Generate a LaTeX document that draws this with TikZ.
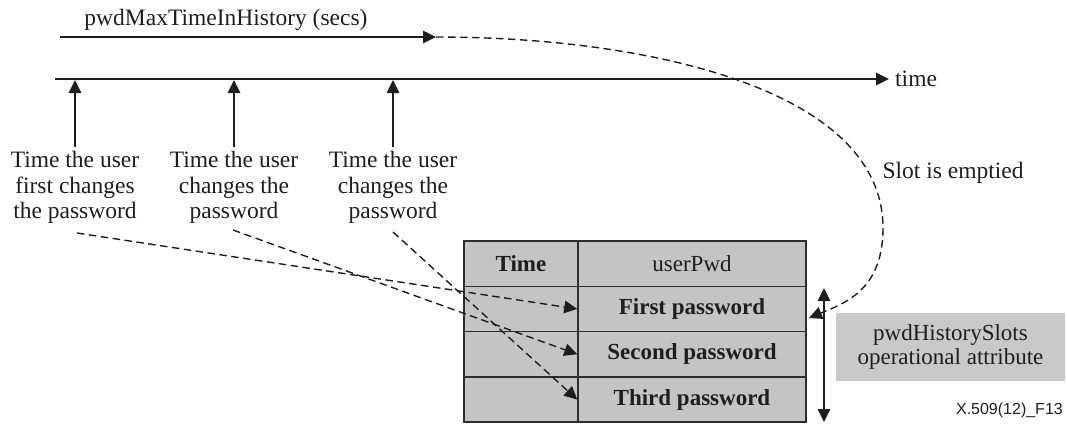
\documentclass[tikz,border=0pt]{standalone}
\usepackage{fontspec}
\setmainfont{Liberation Serif}
\newfontfamily\sansf{Liberation Sans}
\usetikzlibrary{arrows.meta}
\definecolor{cellgray}{RGB}{196,196,196}
\definecolor{boxgray}{RGB}{201,201,201}
\definecolor{linegray}{RGB}{45,45,45}
\definecolor{inkgray}{RGB}{30,30,30}
\begin{document}
\begin{tikzpicture}[x=1pt,y=-1pt,
 tip/.style={-{Triangle[length=13pt,width=12.5pt]}},
 dtip/.style={{Triangle[length=13pt,width=12.5pt]}-{Triangle[length=13pt,width=12.5pt]}},
 solidline/.style={line width=1.5pt, draw=inkgray},
 dashline/.style={line width=1.4pt, dash pattern=on 7.5pt off 4.5pt, draw=inkgray},
 lbl/.style={font=\fontsize{23.5}{25.5}\selectfont, align=center, inner sep=0pt, text=inkgray},
 cell/.style={draw=linegray, line width=1.5pt, fill=cellgray, minimum height=45.3pt, inner sep=0pt, text=inkgray, font=\fontsize{23}{25}\selectfont},
 bcell/.style={cell, font=\fontsize{23}{25}\selectfont\bfseries},
 cwa/.style={minimum width=114pt},
 cwb/.style={minimum width=228pt},
]
\useasboundingbox (0,0) rectangle (1067,423);

% table
\node[bcell,cwa] (t0) at (521,263.65) {Time};
\node[cell,cwb]  (p0) at (692,263.65) {userPwd};
\node[cell,cwa]  (t1) at (521,308.95) {};
\node[bcell,cwb] (p1) at (692,308.95) {First password};
\node[cell,cwa]  (t2) at (521,354.25) {};
\node[bcell,cwb] (p2) at (692,354.25) {Second password};
\node[cell,cwa]  (t3) at (521,399.55) {};
\node[bcell,cwb] (p3) at (692,399.55) {Third password};

% top arrow
\node[lbl] (pmt) at (226,20) {pwdMaxTimeInHistory (secs)};
\coordinate (ms) at (60,37);
\coordinate (me) at (436,37);
\draw[solidline,tip] (ms) -- (me);

% time axis
\node[lbl, anchor=west] (time) at (895,79) {time};
\coordinate (ts) at (55,79);
\draw[solidline,line width=1.8pt,tip] (ts) -- ([xshift=-6pt]time.west);

% labels
\node[lbl] (l1) at (75,187.5) {Time the user\\first changes\\the password};
\node[lbl] (l2) at (234,187.5) {Time the user\\changes the\\password};
\node[lbl] (l3) at (393,187.5) {Time the user\\changes the\\password};
\coordinate (ax1) at (75,80);
\coordinate (ax2) at (234,80);
\coordinate (ax3) at (393,80);
\draw[solidline,tip] ([yshift=4pt]l1.north) -- (ax1);
\draw[solidline,tip] ([yshift=4pt]l2.north) -- (ax2);
\draw[solidline,tip] ([yshift=4pt]l3.north) -- (ax3);

% dashed arrows to table
\coordinate (d1) at (77,233);
\coordinate (d2) at (233,230);
\coordinate (d3) at (393,232);
\draw[dashline,tip] (d1) -- (p1.west);
\draw[dashline,tip] (d2) -- (p2.west);
\draw[dashline,tip] (d3) -- (p3.west);

% slot emptied curve
\node[lbl] (slot) at (953,173) {Slot is emptied};
\coordinate (se) at (809,318);
\draw[dashline,tip] (me) .. controls (650,37) and (883,90) .. (883,228)
  .. controls (883,290) and (845,303) .. (se);

% history slots
\coordinate (h1) at (824,288);
\coordinate (h2) at (824,422);
\draw[solidline,dtip] (h1) -- (h2);
\node[lbl, fill=boxgray, minimum width=229pt, minimum height=68pt,
      font=\fontsize{23}{23.5}\selectfont] (hs) at (950.5,347) {pwdHistorySlots\\operational attribute};

\node[anchor=east, inner sep=0pt, font=\sansf\fontsize{16}{18}\selectfont, text=inkgray] (fig) at (1063,410) {X.509(12)\_F13};
\end{tikzpicture}
\end{document}
